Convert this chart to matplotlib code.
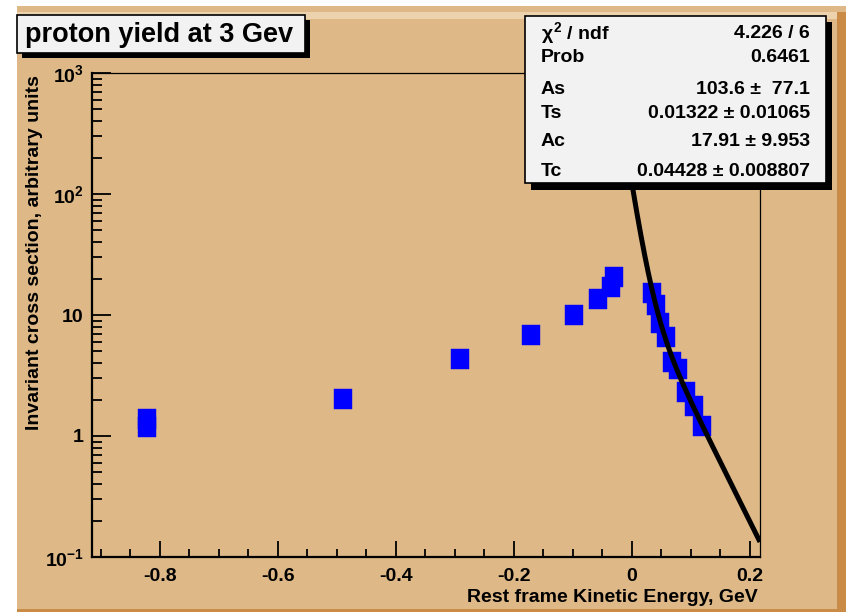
import numpy as np
import matplotlib
matplotlib.use("Agg")
import matplotlib.pyplot as plt
from matplotlib.patches import Rectangle
from matplotlib.path import Path
from matplotlib.ticker import FixedLocator, FixedFormatter, NullFormatter

plt.rcParams["font.family"] = ["Liberation Sans", "DejaVu Sans"]
plt.rcParams["font.weight"] = "bold"
plt.rcParams["axes.unicode_minus"] = False
plt.rcParams["mathtext.fontset"] = "custom"
plt.rcParams["mathtext.rm"] = "Liberation Sans:bold"
plt.rcParams["mathtext.it"] = "Liberation Sans:bold"
plt.rcParams["mathtext.bf"] = "Liberation Sans:bold"

# Measured proton yield vs rest-frame kinetic energy
energy = [-0.822, -0.822, -0.490, -0.292, -0.171, -0.098, -0.058, -0.036, -0.031,
          0.034, 0.041, 0.047, 0.058, 0.068, 0.078, 0.092, 0.105, 0.119]
yield_ = [1.38, 1.19, 2.02, 4.33, 6.84, 10.0, 13.5, 17.0, 20.6,
          15.2, 12.1, 8.6, 6.6, 4.1, 3.6, 2.3, 1.77, 1.21]

# Two-exponential fit parameters
As, Ts = 103.6, 0.01322
Ac, Tc = 17.91, 0.04428

stat_names = [r"$\chi^{2}$ / ndf", "Prob", "As", "Ts", "Ac", "Tc"]
stat_values = ["4.226 / 6", "0.6461", "103.6 \u00b1  77.1", "0.01322 \u00b1 0.01065",
               "17.91 \u00b1 9.953", "0.04428 \u00b1 0.008807"]

xmajor = [-0.8, -0.6, -0.4, -0.2, 0.0, 0.2]
xmajor_labels = ["-0.8", "-0.6", "-0.4", "-0.2", "0", "0.2"]
ymajor = [0.1, 1, 10, 100, 1000]
ymajor_labels = [r"$10^{-1}$", "1", "10", r"$10^{2}$", r"$10^{3}$"]

W, H = 846, 612
BG = "#deb887"
fig = plt.figure(figsize=(W / 100, H / 100), dpi=100)
fig.patch.set_facecolor("white")

# Canvas background in pixel coordinates
bg = fig.add_axes([0, 0, 1, 1], zorder=-5)
bg.set_xlim(0, W)
bg.set_ylim(H, 0)
bg.axis("off")
bg.add_patch(Rectangle((17, 6), W - 17, H - 6, facecolor=BG, edgecolor="none"))
bg.add_patch(Rectangle((17, 12), 820, 7, facecolor="#ecd3ae", edgecolor="none"))
bg.add_patch(Rectangle((837, 12), 9, H - 12, facecolor="#c98b45", edgecolor="none"))
bg.add_patch(Rectangle((17, 609), W - 17, 3, facecolor="#c98b45", edgecolor="none"))

# Main plot
ax = fig.add_axes([92 / W, 1 - 557 / H, (760 - 92) / W, (557 - 73) / H], zorder=1)
ax.patch.set_alpha(0)
ax.set_yscale("log")
ax.set_xlim(-0.915, 0.217)
ax.set_ylim(0.1, 1000)

rect_marker = Path([(-0.43, -0.5), (0.43, -0.5), (0.43, 0.5), (-0.43, 0.5), (-0.43, -0.5)],
                   [Path.MOVETO, Path.LINETO, Path.LINETO, Path.LINETO, Path.CLOSEPOLY])
ax.plot(energy, yield_, linestyle="none", marker=rect_marker, markersize=14.5,
        markerfacecolor="#0000ff", markeredgecolor="#0000ff", markeredgewidth=0.3, zorder=2)

xf = np.linspace(0.0, 0.217, 300)
yf = As * np.exp(-xf / Ts) + Ac * np.exp(-xf / Tc)
ax.plot(xf, yf, color="black", linewidth=3.6, zorder=3, solid_capstyle="butt")

ax.xaxis.set_major_locator(FixedLocator(xmajor))
ax.xaxis.set_major_formatter(FixedFormatter(xmajor_labels))
ax.xaxis.set_minor_locator(FixedLocator(np.arange(-0.9, 0.22, 0.05)))
ax.xaxis.set_minor_formatter(NullFormatter())
ax.yaxis.set_major_locator(FixedLocator(ymajor))
ax.yaxis.set_major_formatter(FixedFormatter(ymajor_labels))
ymin = [m * 10.0 ** e for e in range(-1, 3) for m in range(2, 10)]
ax.yaxis.set_minor_locator(FixedLocator(ymin))
ax.yaxis.set_minor_formatter(NullFormatter())

ax.tick_params(axis="x", which="major", direction="in", length=11.5, width=1.3,
               pad=8, labelsize=14, top=False)
ax.tick_params(axis="x", which="minor", direction="in", length=5.8, width=1.3, top=False)
ax.tick_params(axis="y", which="major", direction="in", length=13.7, width=1.3,
               pad=6, labelsize=14, right=False)
ax.tick_params(axis="y", which="minor", direction="in", length=7.2, width=1.3, right=False)
for lbl in ax.get_xticklabels() + ax.get_yticklabels():
    lbl.set_fontweight("bold")
ax.spines["left"].set_linewidth(1.6)
ax.spines["bottom"].set_linewidth(1.6)
ax.spines["top"].set_linewidth(0.9)
ax.spines["right"].set_linewidth(0.9)

# Overlay for labels and boxes
fg = fig.add_axes([0, 0, 1, 1], zorder=10)
fg.patch.set_alpha(0)
fg.set_xlim(0, W)
fg.set_ylim(H, 0)
fg.axis("off")

fg.text(758, 597, "Rest frame Kinetic Energy, GeV", ha="right", va="center",
        fontsize=14, fontweight="bold", color="black")
fg.text(35, 75, "Invariant cross section, arbitrary units", ha="center", va="top",
        rotation=90, fontsize=14, fontweight="bold", color="black")

# Title box with shadow
fg.add_patch(Rectangle((22, 20), 288, 38, facecolor="black", edgecolor="none"))
fg.add_patch(Rectangle((17, 15), 288, 38, facecolor="#f2f2f2", edgecolor="black", linewidth=1.2))
fg.text(25, 35, "proton yield at 3 Gev", ha="left", va="center",
        fontsize=19.5, fontweight="bold", color="black")

# Fit statistics box with shadow
fg.add_patch(Rectangle((531, 22), 301, 168, facecolor="black", edgecolor="none"))
fg.add_patch(Rectangle((525, 16), 301, 167, facecolor="#f2f2f2", edgecolor="black", linewidth=1.2))
rows_y = [33, 57, 89, 114, 141, 171]
for name, val, yy in zip(stat_names, stat_values, rows_y):
    fg.text(541, yy, name, ha="left", va="center", fontsize=14, fontweight="bold")
    fg.text(810, yy, val, ha="right", va="center", fontsize=14, fontweight="bold")

fig.savefig("out.png", dpi=100, facecolor=fig.get_facecolor())
